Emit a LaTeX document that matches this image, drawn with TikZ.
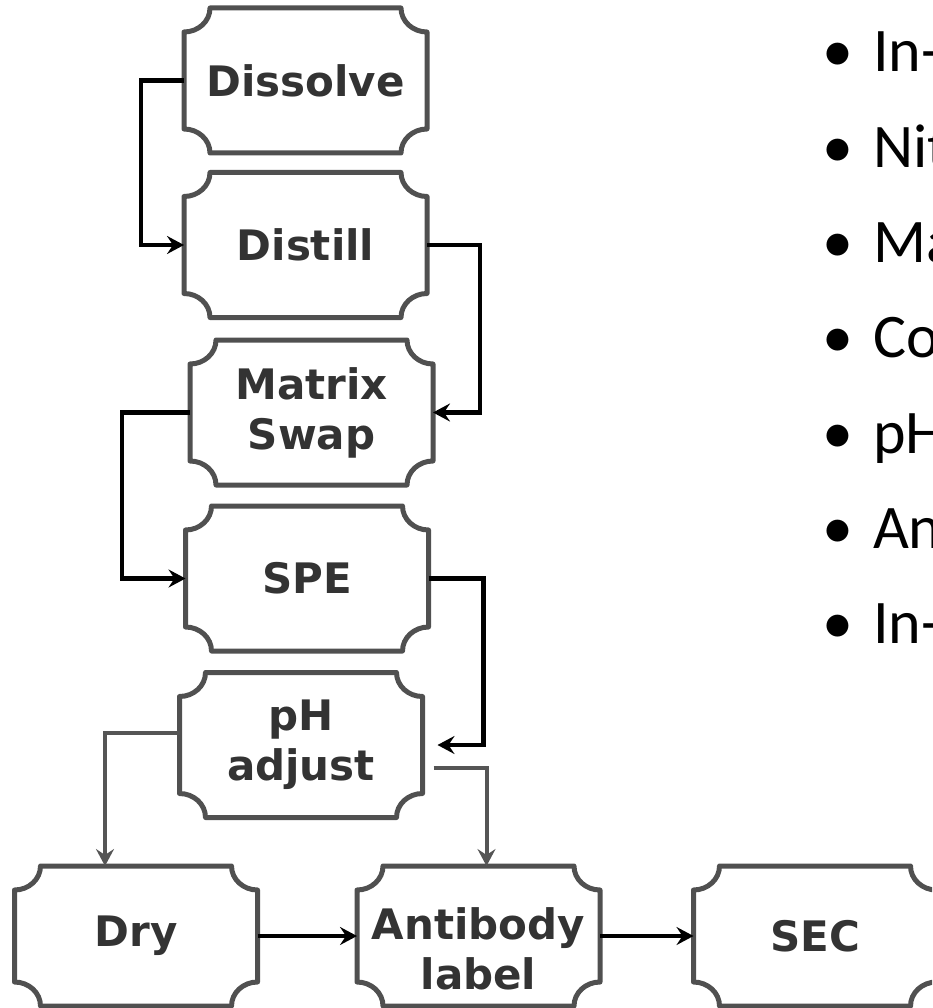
\documentclass[tikz,border=0pt]{standalone}
\usepackage{fontspec}
\setmainfont{Carlito}
\newfontfamily\stepfont{DejaVu Sans}
\usetikzlibrary{arrows.meta,calc}
\definecolor{plaquegrey}{RGB}{80,80,80}
\definecolor{labelgrey}{RGB}{51,51,51}
\definecolor{linkgrey}{RGB}{85,85,85}
% plaque outline with concave corners round a node
\newcommand{\plaque}[1]{%
  \draw[plaqueline] ([yshift=-24pt]#1.north west) arc[start angle=-90,end angle=0,x radius=26pt,y radius=24pt]
    -- ([xshift=-26pt]#1.north east) arc[start angle=180,end angle=270,x radius=26pt,y radius=24pt]
    -- ([yshift=24pt]#1.south east) arc[start angle=90,end angle=180,x radius=26pt,y radius=24pt]
    -- ([xshift=26pt]#1.south west) arc[start angle=0,end angle=90,x radius=26pt,y radius=24pt]
    -- cycle;}

\begin{document}
\begin{tikzpicture}[x=1pt,y=1pt,
    box/.style={rectangle, minimum width=243pt, minimum height=145pt, inner sep=0pt, outer sep=0pt,
                align=center, text=labelgrey, font=\stepfont\bfseries\fontsize{42}{50}\selectfont},
    lowbox/.style={box, minimum height=140pt},
    plaqueline/.style={draw=plaquegrey, line width=5pt, line join=round},
    arr/.style={-{Stealth[length=17pt,width=18pt,inset=6pt]}, line width=4.5pt, black},
    garr/.style={arr, line width=4pt, linkgrey},
    item/.style={anchor=base west, inner sep=0pt, font=\fontsize{62}{74}\selectfont}
]
\useasboundingbox (0,0) rectangle (932,-1008);
\clip (0,0) rectangle (932,-1008);

\node[box] (dissolve) at (305.5,-80.5) {Dissolve};
\node[box] (distill) at (305.5,-245) {Distill};
\node[box] (matrix) at (311.5,-412.5) {Matrix\\Swap};
\node[box] (spe) at (307,-578.5) {SPE};
\node[box] (ph) at (301,-745) {pH\\adjust};
\node[lowbox] (dry) at (136,-936) {Dry};
\node[lowbox, text height=108pt] (antibody) at (478.5,-936) {Antibody\\label};
\node[lowbox] (sec) at (815,-936) {SEC};

\foreach \n in {dissolve,distill,matrix,spe,ph,dry,antibody,sec}
    \plaque{\n};

\draw[arr] (dissolve.west) -- ++(-43,0) |- (distill.west);
\draw[arr] (distill.east) -- ++(53,0) |- (matrix.east);
\draw[arr] (matrix.west) -- ++(-68,0) |- (spe.west);
\draw[arr] (spe.east) -- ++(55,0) |- ($(ph.east)+(15,0)$);
\draw[garr] ([yshift=12pt]ph.west) -| ([xshift=-31pt]dry.north);
\draw[garr] ($(ph.east)+(11,-23)$) -| ([xshift=8pt]antibody.north);
\draw[arr] (dry.east) -- (antibody.west);
\draw[arr] (antibody.east) -- (sec.west);

% bullet list, cut at the right edge
\foreach \t [count=\i] in {In-,Nit,Ma,Co,pH,An,In-}
    \node[item] (b\i) at (822,{-72-(\i-1)*95.3}) {•\hspace{20pt}\t};
\end{tikzpicture}
\end{document}
